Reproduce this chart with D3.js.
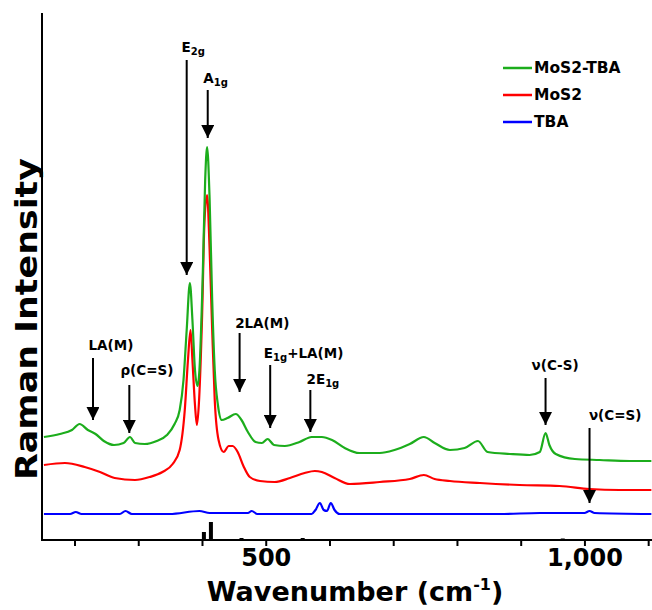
<!DOCTYPE html>
<html>
<head>
<meta charset="utf-8">
<script src="https://cdn.jsdelivr.net/npm/d3@7"></script>
<style>
  body { margin: 0; background: #fff; }
  text { font-family: "DejaVu Sans", Verdana, sans-serif; font-weight: bold; }
</style>
</head>
<body>
<div id="chart"></div>
<script>
// wavenumber (cm-1) and relative intensity
const wnGreen = [152, 177, 196, 208, 221, 233, 246, 262, 277, 287, 295, 310, 329, 345, 357, 365, 371, 376, 381, 385, 389, 393, 396, 401, 405, 408, 412, 416, 420, 425, 431, 440, 453, 462, 472, 484, 494, 503, 513, 530, 553, 572, 588, 604, 624, 647, 679, 702, 726, 748, 765, 789, 812, 833, 848, 883, 914, 930, 939, 945, 955, 985, 1024, 1071, 1105];
const mos2Tba = [103, 106, 110, 116, 110, 106, 99, 95, 97, 103, 97, 96, 99, 105, 116, 130, 160, 210, 257, 220, 170, 154, 170, 260, 360, 393, 340, 240, 170, 135, 120, 122, 126, 120, 108, 98, 97, 101, 95, 94, 98, 103, 103, 100, 92, 87, 87, 90, 96, 103, 97, 90, 92, 99, 88, 86, 85, 88, 107, 95, 86, 81, 80, 79, 79];

const wnRed = [152, 185, 216, 240, 263, 295, 318, 338, 354, 365, 373, 378, 382, 385, 389, 392, 395, 400, 404, 408, 412, 416, 420, 426, 434, 442, 448, 456, 465, 475, 491, 514, 538, 561, 577, 588, 608, 632, 679, 726, 748, 765, 789, 836, 898, 961, 1008, 1055, 1105];
const mos2 = [75, 77, 73, 68, 62, 60, 63, 68, 76, 90, 130, 180, 210, 180, 135, 115, 135, 220, 320, 345, 290, 210, 140, 100, 88, 94, 94, 88, 74, 63, 59, 58, 62, 67, 69, 68, 62, 56, 58, 61, 65, 61, 59, 57, 55, 54, 51, 50, 50];

const wnBlue = [152, 193, 202, 211, 271, 280, 290, 349, 396, 412, 472, 478, 487, 538, 572, 578, 585, 591, 596, 602, 608, 616, 710, 789, 867, 930, 1000, 1008, 1016, 1105];
const tba = [26, 26, 28, 26, 26, 29, 26, 26, 29, 27, 27, 29, 26, 26, 26, 30, 37, 30, 29, 37, 30, 26, 26, 26, 26, 27, 27, 29, 27, 26];

// reference sticks along the baseline
const stickWn = [403, 414, 462, 558, 966];
const stickH = [8, 18, 2, 2, 1.5];

const seriesNames = ["MoS2-TBA", "MoS2", "TBA"];
const seriesColors = ["#1cad1c", "#ff0000", "#0000ff"];

const xTicks = [200, 300, 400, 500, 600, 700, 800, 900, 1000, 1100];
const xTickLabels = [500, 1000];

// peak labels: text, position of text (wn), arrow wn, text y, arrow top, arrow tip (intensity)
const peakText = ["LA(M)", "ρ(C=S)", "E|2g", "A|1g", "2LA(M)", "E|1g|+LA(M)", "2E|1g", "ν(C-S)", "ν(C=S)"];
const peakTextWn = [222, 272, 368, 402, 452, 497, 564, 917, 1007];
const peakArrowWn = [229, 286, 376, 409, 459, 507, 570, 939, 1008];
const peakTextI = [190, 165, 488, 457, 212, 182, 156, 170, 120];
const peakArrowTop = [182, 155, 480, 450, 207, 175, 150, 162, 112];
const peakArrowTip = [120, 107, 265, 402, 148, 112, 108, 115, 37];

const width = 652, height = 610;
const margin = {left: 42, right: 0, top: 13, bottom: 70};

const svg = d3.select("#chart").append("svg")
    .attr("width", width)
    .attr("height", height);

const x = d3.scaleLinear().domain([149, 1106]).range([margin.left, width - margin.right]);
const y = d3.scaleLinear().domain([0, 527]).range([height - margin.bottom, margin.top]);

// sticks
svg.append("g").selectAll("rect")
  .data(stickWn)
  .enter().append("rect")
    .attr("x", d => x(d) - 2)
    .attr("width", 4)
    .attr("y", (d, i) => y(stickH[i]))
    .attr("height", (d, i) => y(0) - y(stickH[i]))
    .attr("fill", "#000");

const line = d3.line()
    .x(d => x(d[0]))
    .y(d => y(d[1]))
    .curve(d3.curveMonotoneX);

const series = [
  d3.zip(wnGreen, mos2Tba),
  d3.zip(wnRed, mos2),
  d3.zip(wnBlue, tba)
];

// draw blue first so green sits on top like the original
[2, 1, 0].forEach(function(i) {
  svg.append("path")
    .datum(series[i])
    .attr("fill", "none")
    .attr("stroke", seriesColors[i])
    .attr("stroke-width", 2.2)
    .attr("stroke-linejoin", "round")
    .attr("d", line);
});

// axes
const xAxis = d3.axisBottom(x)
    .tickValues(xTicks)
    .tickSize(6)
    .tickFormat(d => xTickLabels.includes(d) ? d3.format(",")(d) : "");

const gx = svg.append("g")
    .attr("transform", "translate(0," + y(0) + ")")
    .call(xAxis);
gx.select(".domain").attr("stroke-width", 2).attr("d", "M" + margin.left + ",0H" + width);
gx.selectAll(".tick line").attr("stroke-width", 2);
gx.selectAll(".tick text")
    .attr("font-size", 24)
    .attr("y", 26)
    .attr("dy", 0)
    .attr("fill", "#000");

svg.append("line")
    .attr("x1", margin.left).attr("x2", margin.left)
    .attr("y1", margin.top).attr("y2", y(0) + 1)
    .attr("stroke", "#000")
    .attr("stroke-width", 2);

svg.append("text")
    .attr("x", 355)
    .attr("y", 601)
    .attr("text-anchor", "middle")
    .attr("font-size", 27)
    .html('Wavenumber (cm<tspan font-size="16" dy="-11">-1</tspan><tspan dy="11">)</tspan>');

svg.append("text")
    .attr("transform", "translate(37,319) rotate(-90)")
    .attr("text-anchor", "middle")
    .attr("font-size", 30)
    .attr("textLength", 322)
    .attr("lengthAdjust", "spacingAndGlyphs")
    .text("Raman Intensity");

// arrowhead
svg.append("defs").append("marker")
    .attr("id", "head")
    .attr("viewBox", "0 0 10 10")
    .attr("refX", 10).attr("refY", 5)
    .attr("markerWidth", 6.5).attr("markerHeight", 6.5)
    .attr("markerUnits", "strokeWidth")
    .attr("orient", "auto")
  .append("path")
    .attr("d", "M0,0L10,5L0,10Z")
    .attr("fill", "#000");

const peaks = svg.append("g");
peakText.forEach(function(t, i) {
  peaks.append("line")
    .attr("x1", x(peakArrowWn[i])).attr("x2", x(peakArrowWn[i]))
    .attr("y1", y(peakArrowTop[i])).attr("y2", y(peakArrowTip[i]))
    .attr("stroke", "#000")
    .attr("stroke-width", 2)
    .attr("marker-end", "url(#head)");

  const parts = t.split("|");
  const txt = peaks.append("text")
    .attr("x", x(peakTextWn[i]))
    .attr("y", y(peakTextI[i]))
    .attr("font-size", 13.5);
  parts.forEach(function(p, k) {
    const sub = k % 2 === 1;
    txt.append("tspan")
      .attr("font-size", sub ? 10 : 13.5)
      .attr("dy", k === 0 ? 0 : (sub ? 3 : -3))
      .text(p);
  });
});

// legend
const legend = svg.append("g");
seriesNames.forEach(function(n, i) {
  const ly = 68 + i * 27;
  legend.append("line")
    .attr("x1", 503).attr("x2", 532)
    .attr("y1", ly).attr("y2", ly)
    .attr("stroke", seriesColors[i])
    .attr("stroke-width", 2.5);
  legend.append("text")
    .attr("x", 534).attr("y", ly + 5)
    .attr("font-size", 15.5)
    .text(n);
});
</script>
</body>
</html>
